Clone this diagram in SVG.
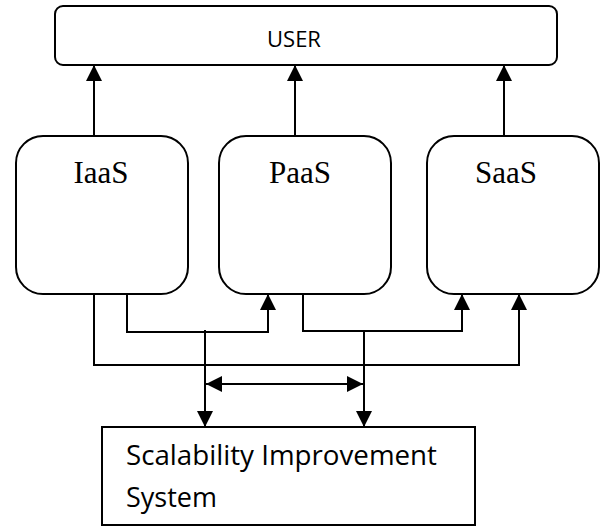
<svg xmlns="http://www.w3.org/2000/svg" width="601" height="527" viewBox="0 0 601 527">
<defs>
<style>
.box{fill:#fff;stroke:#000;stroke-width:2}
.ln{fill:none;stroke:#000;stroke-width:2}
.sans{font-family:"Open Sans","Liberation Sans",sans-serif;fill:#000}
.serif{font-family:"Liberation Serif","Times New Roman",serif;font-size:31px;fill:#000;text-anchor:middle}
</style>
<marker id="ah" markerUnits="userSpaceOnUse" markerWidth="16" markerHeight="16" refX="16" refY="8" orient="auto-start-reverse" viewBox="0 0 16 16">
<path d="M0,0 L16,8 L0,16 Z" fill="#000"/>
</marker>
</defs>
<rect width="601" height="527" fill="#fff"/>
<g id="user">
<rect class="box" x="55" y="6" width="502" height="59" rx="8"/>
<text class="sans" x="294" y="47" font-size="22" text-anchor="middle">USER</text>
</g>
<g id="iaas">
<rect class="box" x="16" y="136" width="172" height="158" rx="27"/>
<text class="serif" x="101" y="183">IaaS</text>
</g>
<g id="paas">
<rect class="box" x="219" y="136" width="172" height="158" rx="27"/>
<text class="serif" x="300" y="183">PaaS</text>
</g>
<g id="saas">
<rect class="box" x="427" y="136" width="172" height="158" rx="27"/>
<text class="serif" x="506" y="183">SaaS</text>
</g>
<g id="sis">
<rect class="box" x="102" y="427" width="373" height="98"/>
<text class="sans" x="126" y="465" font-size="27" textLength="311" lengthAdjust="spacingAndGlyphs">Scalability Improvement</text>
<text class="sans" x="126" y="507" font-size="27" textLength="91" lengthAdjust="spacingAndGlyphs">System</text>
</g>
<g id="connectors">
<path class="ln" d="M94,136 V65" marker-end="url(#ah)"/>
<path class="ln" d="M295,136 V65" marker-end="url(#ah)"/>
<path class="ln" d="M504,136 V65" marker-end="url(#ah)"/>
<path class="ln" d="M127,294 V332 H268 V294" marker-end="url(#ah)"/>
<path class="ln" d="M303,294 V331 H462 V294" marker-end="url(#ah)"/>
<path class="ln" d="M94,294 V365 H519 V294" marker-end="url(#ah)"/>
<path class="ln" d="M205,330 V427" marker-end="url(#ah)"/>
<path class="ln" d="M364,330 V427" marker-end="url(#ah)"/>
<path class="ln" d="M206,384 H363" marker-start="url(#ah)" marker-end="url(#ah)"/>
</g>
</svg>
